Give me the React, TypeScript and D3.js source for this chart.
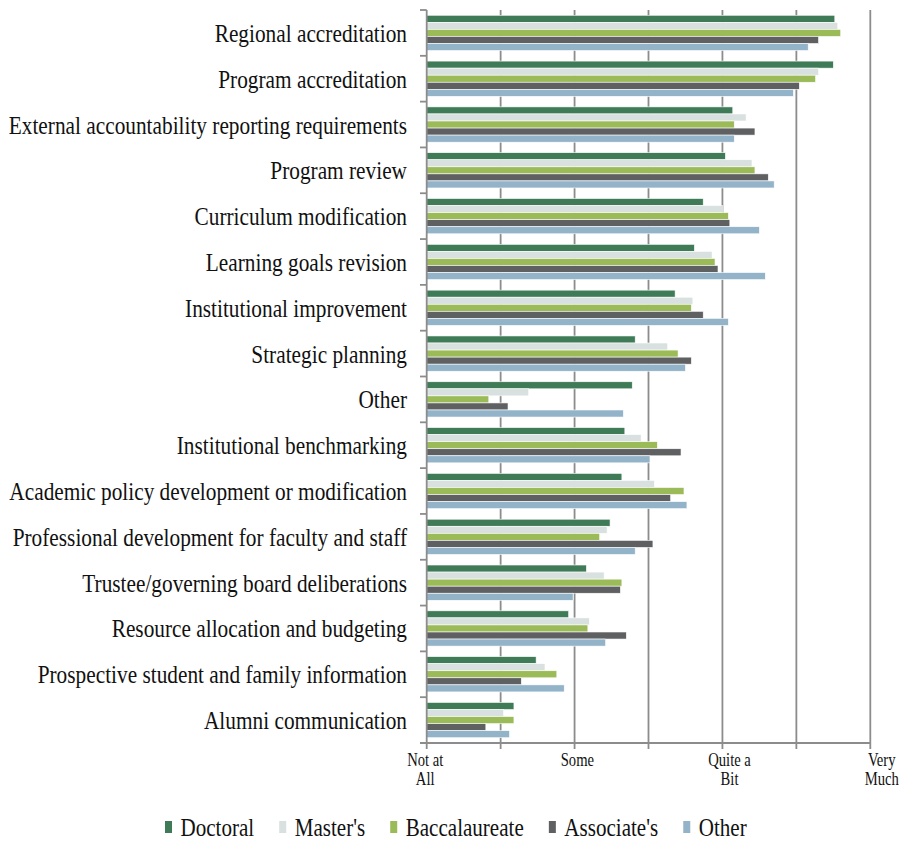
import React from "react";
import * as d3 from "d3";

const categories = [
  "Regional accreditation",
  "Program accreditation",
  "External accountability reporting requirements",
  "Program review",
  "Curriculum modification",
  "Learning goals revision",
  "Institutional improvement",
  "Strategic planning",
  "Other",
  "Institutional benchmarking",
  "Academic policy development or modification",
  "Professional development for faculty and staff",
  "Trustee/governing board deliberations",
  "Resource allocation and budgeting",
  "Prospective student and family information",
  "Alumni communication",
];

const seriesNames = ["Doctoral", "Master's", "Baccalaureate", "Associate's", "Other"];
const seriesColors = ["#3f7b57", "#d8e1df", "#9bbb59", "#5f6062", "#93b3c9"];

const doctoral = [3.76, 3.75, 3.07, 3.02, 2.87, 2.81, 2.68, 2.41, 2.39, 2.34, 2.32, 2.24, 2.08, 1.96, 1.74, 1.59];
const masters = [3.78, 3.65, 3.16, 3.2, 3.0, 2.93, 2.8, 2.63, 1.69, 2.45, 2.54, 2.22, 2.2, 2.1, 1.8, 1.52];
const baccalaureate = [3.8, 3.63, 3.08, 3.22, 3.04, 2.95, 2.79, 2.7, 1.42, 2.56, 2.74, 2.17, 2.32, 2.09, 1.88, 1.59];
const associates = [3.65, 3.52, 3.22, 3.31, 3.05, 2.97, 2.87, 2.79, 1.55, 2.72, 2.65, 2.53, 2.31, 2.35, 1.64, 1.4];
const otherSeries = [3.58, 3.48, 3.08, 3.35, 3.25, 3.29, 3.04, 2.75, 2.33, 2.51, 2.76, 2.41, 1.99, 2.21, 1.93, 1.56];

const seriesValues = [doctoral, masters, baccalaureate, associates, otherSeries];

const tickValues = [1, 1.5, 2, 2.5, 3, 3.5, 4];
const tickLabels: Record<string, string[]> = {
  "1": ["Not at", "All"],
  "2": ["Some"],
  "3": ["Quite a", "Bit"],
  "4": ["Very", "Much"],
};

const W = 899;
const H = 841;
const FONT = "'Liberation Serif', 'Times New Roman', Times, serif";
const SX = 0.82;
const LSX = 0.86;
const GRID = "#8c8c8c";

function measure(text: string, size: number): number {
  const c = document.createElement("canvas").getContext("2d");
  if (!c) return text.length * size * 0.45;
  c.font = `${size}px 'Liberation Serif'`;
  return c.measureText(text).width;
}

export default function App() {
  const x = d3.scaleLinear().domain([1, 4]).range([426.7, 870.3]);
  const y = d3
    .scaleBand<string>()
    .domain(categories)
    .range([10, 743])
    .paddingInner(0.23)
    .paddingOuter(0.115);
  const inner = d3
    .scaleBand<string>()
    .domain(seriesNames)
    .range([0, y.bandwidth()])
    .padding(0);

  const step = y.step();
  const boundaries = d3.range(categories.length + 1).map((i) => 10 + i * step);

  // legend layout
  const legFont = 24.5;
  const sqW = 7;
  const gapSqText = 8.5;
  const gapItems = 25;
  const widths = seriesNames.map((n) => measure(n, legFont) * LSX);
  let cur = 165;
  const legendItems = seriesNames.map((n, i) => {
    const item = { name: n, color: seriesColors[i], x: cur };
    cur += sqW + gapSqText + widths[i] + gapItems;
    return item;
  });

  return (
    <svg
      width={W}
      height={H}
      style={{ position: "absolute", left: 0, top: 0, background: "#fff", display: "block" }}
    >
      <rect x={0} y={0} width={W} height={H} fill="#fff" />
      {/* gridlines */}
      {tickValues.slice(1).map((v) => (
        <line key={"g" + v} x1={x(v)} x2={x(v)} y1={10} y2={743} stroke={GRID} strokeWidth={1.8} />
      ))}
      {/* bars */}
      {categories.map((cat, ci) => (
        <g key={cat}>
          {seriesNames.map((s, si) => (
            <rect
              key={s}
              x={x(1)}
              y={(y(cat) as number) + (inner(s) as number)}
              width={x(seriesValues[si][ci]) - x(1)}
              height={inner.bandwidth()}
              fill={seriesColors[si]}
              stroke="#ffffff"
              strokeWidth={0.6}
            />
          ))}
        </g>
      ))}
      {/* left axis */}
      <line x1={x(1)} x2={x(1)} y1={10} y2={743} stroke={GRID} strokeWidth={1.8} />
      {boundaries.map((b, i) => (
        <line key={"lt" + i} x1={420} x2={x(1)} y1={b} y2={b} stroke={GRID} strokeWidth={1.8} />
      ))}
      {/* bottom axis */}
      <line x1={420} x2={x(4)} y1={743} y2={743} stroke={GRID} strokeWidth={1.8} />
      {tickValues.map((v) => (
        <line key={"bt" + v} x1={x(v)} x2={x(v)} y1={743} y2={749} stroke={GRID} strokeWidth={1.8} />
      ))}
      {/* category labels */}
      {categories.map((cat) => (
        <text
          key={"l" + cat}
          transform={`translate(407, ${(y(cat) as number) - (step - y.bandwidth()) / 2 + step / 2 + 9}) scale(${SX},1)`}
          textAnchor="end"
          fontFamily={FONT}
          fontSize={26}
          fill="#111"
        >
          {cat}
        </text>
      ))}
      {/* tick labels */}
      {tickValues
        .filter((v) => tickLabels[String(v)])
        .map((v) => {
          const cx = x(v) + (v - 1) * 4.3 - 1.5;
          return (
            <g key={"tl" + v}>
              {tickLabels[String(v)].map((line, li) => (
                <text
                  key={li}
                  transform={`translate(${cx}, ${766 + li * 19}) scale(0.79,1)`}
                  textAnchor="middle"
                  fontFamily={FONT}
                  fontSize={18.5}
                  fill="#111"
                >
                  {line}
                </text>
              ))}
            </g>
          );
        })}
      {/* legend */}
      {legendItems.map((it) => (
        <g key={"lg" + it.name}>
          <rect x={it.x} y={821} width={sqW} height={12} fill={it.color} />
          <text
            transform={`translate(${it.x + sqW + gapSqText}, 835.5) scale(${LSX},1)`}
            fontFamily={FONT}
            fontSize={legFont}
            fill="#111"
          >
            {it.name}
          </text>
        </g>
      ))}
    </svg>
  );
}
